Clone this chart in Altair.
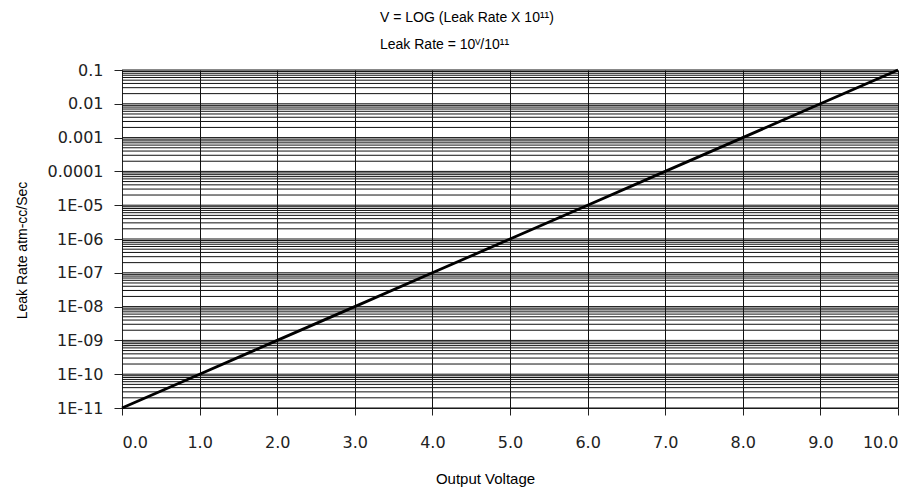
import altair as alt
import pandas as pd

# Data
voltage = [0, 1, 2, 3, 4, 5, 6, 7, 8, 9, 10]
leak_rate = [1e-11, 1e-10, 1e-9, 1e-8, 1e-7, 1e-6, 1e-5, 1e-4, 1e-3, 1e-2, 1e-1]
x_ticks = [0, 1, 2, 3, 4, 5, 6, 7, 8, 9, 10]
y_ticks = [1e-11, 1e-10, 1e-9, 1e-8, 1e-7, 1e-6, 1e-5, 1e-4, 1e-3, 1e-2, 1e-1]
y_labels = ["1E-11", "1E-10", "1E-09", "1E-08", "1E-07", "1E-06", "1E-05",
            "0.0001", "0.001", "0.01", "0.1"]
mantissas = [1, 2, 3, 4, 5, 6, 7, 8, 9]
decades = [1e-11, 1e-10, 1e-9, 1e-8, 1e-7, 1e-6, 1e-5, 1e-4, 1e-3, 1e-2]
top_grid = [1e-1]

line_df = pd.DataFrame({"v": voltage, "rate": leak_rate})
grid_df = pd.DataFrame({"rate": [m * d for d in decades for m in mantissas] + top_grid})

label_arr = "[" + ",".join("'%s'" % s for s in y_labels) + "]"
label_expr = label_arr + "[round(log(datum.value)/LN10)+11]"

FONT = "Liberation Sans"
TICKFONT = "DejaVu Sans"

yscale = alt.Scale(type="log", domain=[1e-11, 0.1], nice=False)
xscale = alt.Scale(domain=[0, 10], nice=False)

yaxis = alt.Axis(
    values=y_ticks,
    labelExpr=label_expr,
    grid=False,
    domainColor="#222222",
    tickColor="#222222",
    tickSize=8,
    labelPadding=11,
    labelFont=TICKFONT,
    labelFontSize=16,
    labelColor="#222222",
    title="Leak Rate atm-cc/Sec",
    titleFont=FONT,
    titleFontSize=14,
    titleFontWeight="normal",
    titleColor="black",
    titleX=-100,
    titleY=180,
    titleAngle=-90,
    titleBaseline="middle",
    titleAlign="center",
)

grid = alt.Chart(grid_df).mark_rule(color="#111111", strokeWidth=1).encode(
    y=alt.Y("rate:Q", scale=yscale, axis=yaxis),
)

line = alt.Chart(line_df).mark_line(color="black", strokeWidth=2.8).encode(
    x=alt.X(
        "v:Q",
        scale=xscale,
        axis=alt.Axis(
            values=x_ticks,
            format=".1f",
            grid=True,
            gridColor="#111111",
            gridOpacity=1,
            gridWidth=1,
            domainColor="#222222",
            tickColor="#222222",
            tickSize=7,
            labelPadding=19,
            labelFont=TICKFONT,
            labelFontSize=16,
            labelColor="#222222",
            title="Output Voltage",
            titleFont=FONT,
            titleFontSize=15,
            titleFontWeight="normal",
            titleColor="black",
            titleX=363,
            titleY=70,
            titleBaseline="middle",
            titleAlign="center",
        ),
    ),
    y=alt.Y("rate:Q", scale=yscale, axis=yaxis),
)

chart = alt.layer(grid, line).properties(
    width=776,
    height=338,
    autosize=alt.AutoSizeParams(type="none"),
    padding={"left": 114, "top": 62, "right": 16, "bottom": 85},
    title=alt.Title(
        text=["V = LOG (Leak Rate X 10¹¹)", "Leak Rate = 10ⱽ/10¹¹"],
        anchor="start",
        dx=365,
        offset=10,
        font=FONT,
        fontSize=14,
        fontWeight="normal",
        color="black",
        lineHeight=27,
    ),
).configure_view(stroke=None).configure(background="white")

chart.save("out.html", embed_options={"renderer": "svg", "actions": False})
